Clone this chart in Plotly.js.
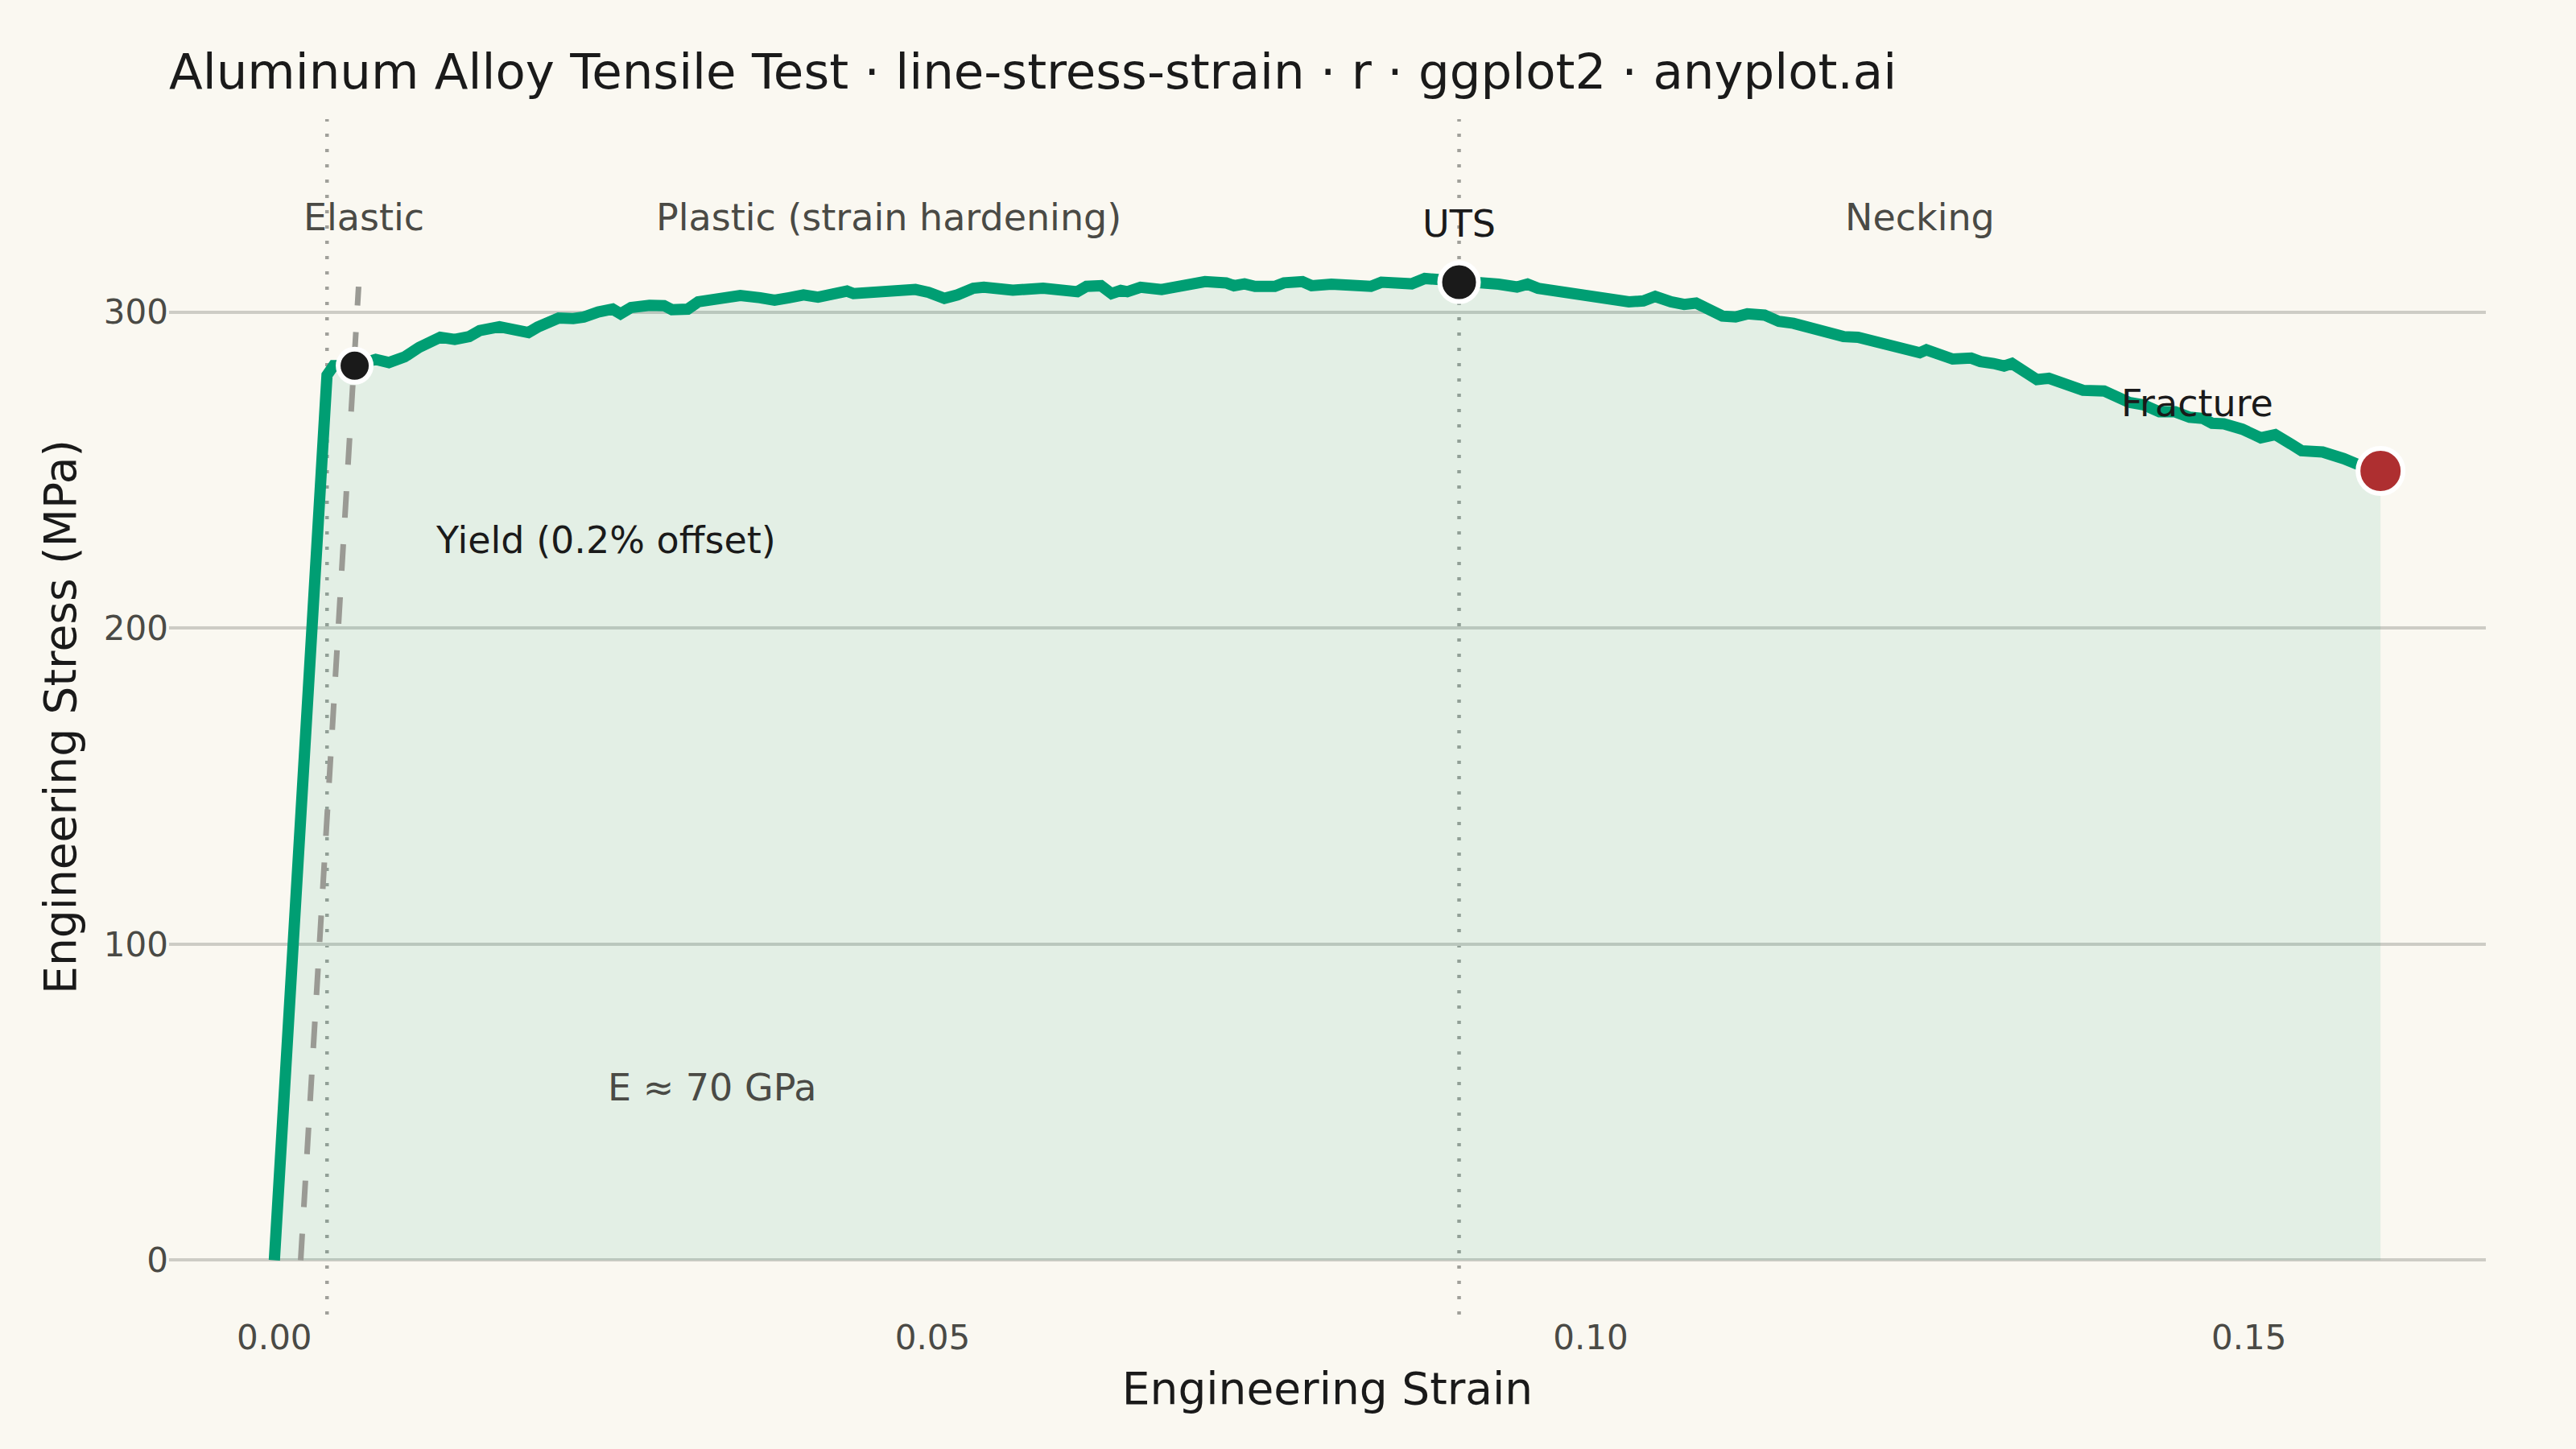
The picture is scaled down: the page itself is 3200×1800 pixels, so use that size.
<!DOCTYPE html>
<html>
<head>
<meta charset="utf-8">
<script src="https://cdn.plot.ly/plotly-3.0.1.min.js"></script>
<style>
  html, body { margin: 0; padding: 0; background: #FAF8F1; }
  #plot { width: 3200px; height: 1800px; }
</style>
</head>
<body>
<div id="plot"></div>
<script>
// engineering strain / stress
var strain = [0, 0.001, 0.002, 0.003, 0.004, 0.0045, 0.0061, 0.0077, 0.0087, 0.0099,
  0.0110, 0.0126, 0.0137, 0.0148, 0.0156, 0.0171, 0.0184, 0.0193, 0.0200, 0.0211,
  0.0216, 0.0227, 0.0235, 0.0246, 0.0257, 0.0263, 0.0271, 0.0285, 0.0296, 0.0302,
  0.0314, 0.0322, 0.0336, 0.0347, 0.0354, 0.0369, 0.0380, 0.0391, 0.0402, 0.0413,
  0.0424, 0.0435, 0.0440, 0.0454, 0.0464, 0.0472, 0.0487, 0.0497, 0.0509, 0.0519,
  0.0531, 0.0539, 0.0552, 0.0561, 0.0584, 0.0601, 0.0610, 0.0617, 0.0628, 0.0636,
  0.0643, 0.0648, 0.0658, 0.0674, 0.0690, 0.0707, 0.0723, 0.0729, 0.0737, 0.0745,
  0.0760, 0.0767, 0.0781, 0.0788, 0.0803, 0.0819, 0.0833, 0.0841, 0.0857, 0.0864,
  0.0874, 0.0883, 0.0900, 0.0919, 0.0930, 0.0944, 0.0952, 0.0960, 0.0979, 0.0990,
  0.1001, 0.1012, 0.1022, 0.1029, 0.1040, 0.1049, 0.1061, 0.1071, 0.1080, 0.1091,
  0.1100, 0.1110, 0.1119, 0.1132, 0.1143, 0.1154, 0.1165, 0.1176, 0.1192, 0.1203,
  0.1212, 0.1225, 0.1239, 0.1250, 0.1255, 0.1268, 0.1275, 0.1289, 0.1296, 0.1306,
  0.1314, 0.1320, 0.1329, 0.1339, 0.1348, 0.1357, 0.1367, 0.1374, 0.1390, 0.1399,
  0.1409, 0.1420, 0.1432, 0.1444, 0.1455, 0.1465, 0.1472, 0.1481, 0.1495, 0.1509,
  0.1520, 0.1532, 0.1540, 0.1556, 0.1563, 0.1572, 0.1582, 0.1600];
var stress = [0, 70, 140, 210, 280, 283, 283, 285, 284, 285.8,
  288.8, 292, 291.3, 292.2, 294.1, 295.3, 294.5, 293.5, 295.2, 296.9,
  298.1, 297.9, 298.4, 300, 300.9, 299.4, 301.4, 302.1, 302, 300.7,
  300.9, 303.2, 304.1, 304.1, 305.2, 304.5, 303.7, 304.5, 305.4, 304.7,
  305.4, 306.6, 305.8, 306.2, 306.8, 307.1, 307.1, 306.2, 304.3, 305.4,
  307.5, 307.8, 307.1, 306.9, 307.5, 306.6, 306.4, 308.1, 308.3, 305.8,
  306.8, 306.4, 307.8, 307.1, 308.3, 309.6, 309.2, 308.3, 308.9, 308.1,
  308.1, 309.2, 309.6, 308.3, 308.8, 308.8, 308.1, 309.4, 309.6, 308.9,
  310.6, 310.4, 309.4, 309.8, 308.8, 307.9, 308.8, 307.5, 306.2, 306,
  305.2, 304.1, 304.1, 303.2, 303.5, 304.9, 303.2, 302.4, 302.8, 300.9,
  298.7, 298.4, 299.4, 299, 297, 296.4, 295, 293.5, 292.2, 292,
  290.9, 290.1, 288.2, 287.1, 288, 286.7, 285.1, 285.4, 284.3, 283.7,
  282.9, 283.7, 281.4, 278.6, 279, 277.8, 276.7, 275.2, 275, 273.1,
  271.4, 270.6, 268.4, 268.4, 266.7, 266.3, 264.8, 264.6, 262.9, 260.2,
  261.2, 258.2, 256.1, 255.7, 254.4, 253.6, 251.9, 249.7];

// 0.2% offset line (E = 70 GPa)
var offsetStrain = [0.002, 0.0064];
var offsetStress = [0, 308];

// key points
var yieldPt = [0.0061, 283];
var utsPt = [0.09, 309.4];
var fracturePt = [0.16, 249.7];

// region boundaries
var boundaries = [0.004, 0.09];

var xTicks = [0, 0.05, 0.10, 0.15];
var xTickText = ['0.00', '0.05', '0.10', '0.15'];
var yTicks = [0, 100, 200, 300];

var font = 'DejaVu Sans, sans-serif';
var ink = '#1a1a1a';
var soft = '#4a4a45';

var traces = [
  {
    type: 'scatter', mode: 'lines',
    x: strain, y: stress,
    line: {color: '#009E73', width: 14},
    fill: 'tozeroy', fillcolor: 'rgba(0,158,115,0.09)',
    hoverinfo: 'skip'
  },
  {
    type: 'scatter', mode: 'lines',
    x: offsetStrain, y: offsetStress,
    line: {color: '#9a9a94', width: 7, dash: '33px,33px'},
    hoverinfo: 'skip'
  },
  {
    type: 'scatter', mode: 'markers',
    x: [yieldPt[0]], y: [yieldPt[1]],
    marker: {color: ink, size: 41, line: {color: '#ffffff', width: 6}},
    hoverinfo: 'skip'
  },
  {
    type: 'scatter', mode: 'markers',
    x: [utsPt[0]], y: [utsPt[1]],
    marker: {color: ink, size: 48, line: {color: '#ffffff', width: 6}},
    hoverinfo: 'skip'
  },
  {
    type: 'scatter', mode: 'markers',
    x: [fracturePt[0]], y: [fracturePt[1]],
    marker: {color: '#AE2F30', size: 56, line: {color: '#ffffff', width: 6}},
    hoverinfo: 'skip'
  }
];

var shapes = boundaries.map(function (b) {
  return {
    type: 'line', xref: 'x', yref: 'paper',
    x0: b, x1: b, y0: 0, y1: 1,
    layer: 'below',
    line: {color: '#a0a09a', width: 4.5, dash: '4px,15px'}
  };
});

function label(text, x, y, color, anchor) {
  return {
    text: text, x: x, y: y, xref: 'x', yref: 'y',
    xanchor: anchor || 'center', yanchor: 'middle',
    showarrow: false,
    font: {family: font, size: 46, color: color}
  };
}

var annotations = [
  label('Elastic', 0.0068, 330, soft),
  label('Plastic (strain hardening)', 0.0467, 330, soft),
  label('Necking', 0.125, 330, soft),
  label('UTS', utsPt[0], 327.8, ink),
  label('Fracture', 0.1461, 271.2, ink),
  label('Yield (0.2% offset)', 0.0121, 227.7, ink, 'left'),
  label('E ≈ 70 GPa', 0.0252, 54.7, soft, 'left')
];

var layout = {
  width: 3200, height: 1800,
  paper_bgcolor: '#FAF8F1', plot_bgcolor: '#FAF8F1',
  margin: {l: 210, r: 112, t: 148, b: 167},
  showlegend: false,
  font: {family: font, color: ink},
  title: {
    text: 'Aluminum Alloy Tensile Test · line-stress-strain · r · ggplot2 · anyplot.ai',
    font: {family: font, size: 61, color: ink},
    x: 0, xref: 'paper', xanchor: 'left',
    y: 0.9508, yref: 'container', yanchor: 'middle'
  },
  xaxis: {
    range: [-0.008, 0.168],
    tickvals: xTicks, ticktext: xTickText,
    showgrid: false, zeroline: false, showline: false, ticks: '',
    tickfont: {family: font, size: 42, color: soft},
    title: {text: 'Engineering Strain', font: {family: font, size: 55, color: ink}, standoff: 20},
    automargin: false
  },
  yaxis: {
    range: [-17.2, 361],
    tickvals: yTicks,
    showgrid: true, gridcolor: '#CDCCC5', gridwidth: 4,
    zeroline: false, showline: false, ticks: '',
    tickfont: {family: font, size: 42, color: soft},
    title: {text: 'Engineering Stress (MPa)', font: {family: font, size: 55, color: ink}, standoff: 16},
    automargin: false
  },
  shapes: shapes,
  annotations: annotations
};

Plotly.newPlot(document.getElementById('plot'), traces, layout, {staticPlot: true});
</script>
</body>
</html>
